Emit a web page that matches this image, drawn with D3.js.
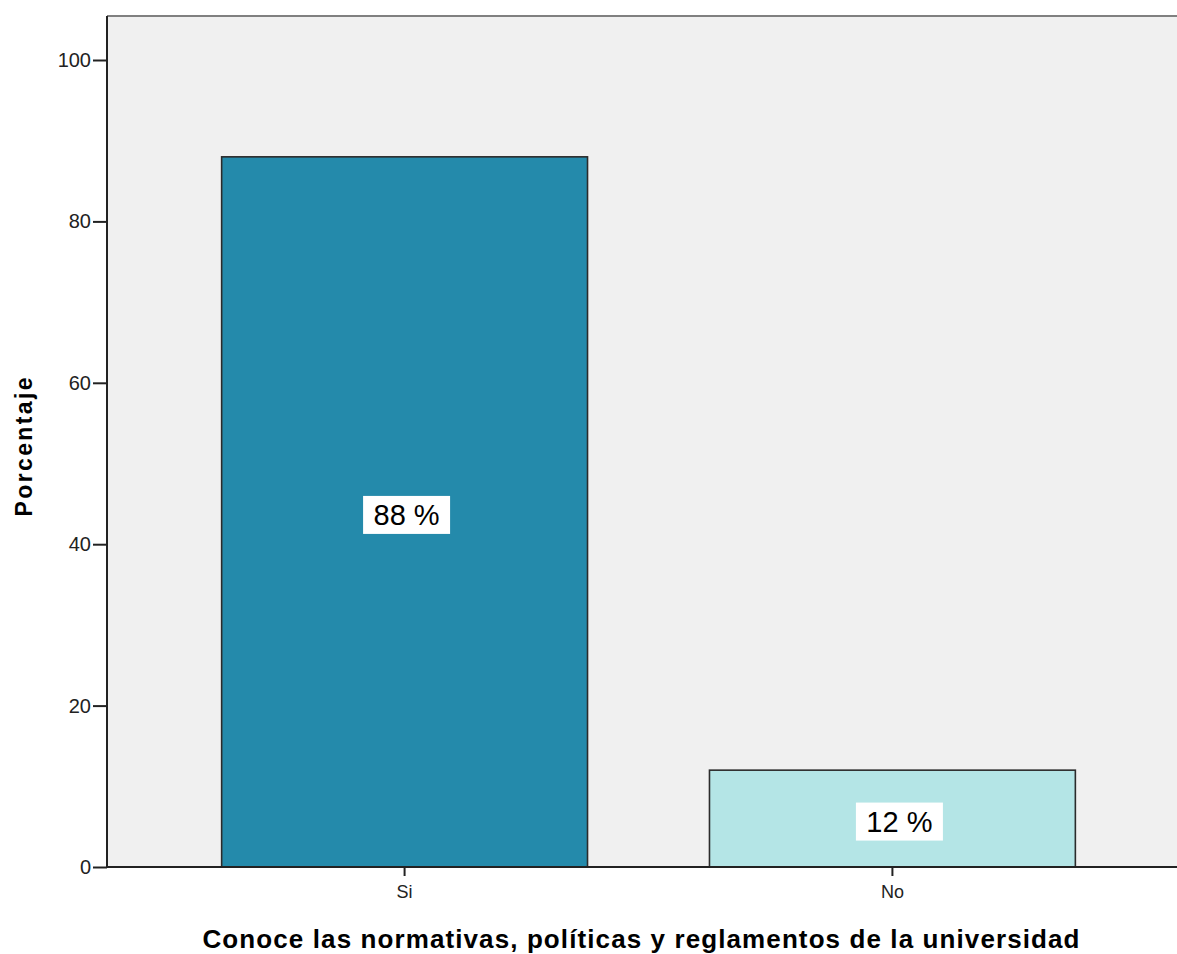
<!DOCTYPE html>
<html>
<head>
<meta charset="utf-8">
<script src="https://cdn.jsdelivr.net/npm/d3@7"></script>
<style>
  body { margin: 0; background: #fff; }
  text { font-family: "Liberation Sans", Arial, sans-serif; }
</style>
</head>
<body>
<svg id="chart" width="1177" height="954"></svg>
<script>
// data
var categories = ["Si", "No"]
var percents = [88, 12]
var labels = ["88 %", "12 %"]
var barColors = ["#248aab", "#b4e5e6"]
var yTicks = [0, 20, 40, 60, 80, 100]

var width = 1177, height = 954
var margin = { top: 16, bottom: 87, left: 107 }
var svg = d3.select("#chart")

// the plot area runs past the right edge of the picture
var x = d3.scaleBand()
    .domain(categories)
    .range([margin.left, 1190])
    .paddingInner(0.25)
    .paddingOuter(0.235)

var y = d3.scaleLinear()
    .domain([0, 100])
    .range([height - margin.bottom, 60])

// plot background
svg.append("rect")
    .attr("x", margin.left)
    .attr("y", margin.top)
    .attr("width", width - margin.left + 10)
    .attr("height", height - margin.bottom - margin.top)
    .attr("fill", "#f0f0f0")

svg.append("line")
    .attr("x1", margin.left).attr("x2", width + 5)
    .attr("y1", margin.top).attr("y2", margin.top)
    .attr("stroke", "#808080").attr("stroke-width", 2)

// bars
svg.selectAll(".bar")
    .data(categories)
    .join("rect")
    .attr("class", "bar")
    .attr("x", d => x(d))
    .attr("y", (d, i) => y(percents[i]))
    .attr("width", x.bandwidth())
    .attr("height", (d, i) => y(0) - y(percents[i]))
    .attr("fill", (d, i) => barColors[i])
    .attr("stroke", "#2b2b2b")
    .attr("stroke-width", 1.6)

// value labels with white boxes
var lab = svg.selectAll(".lab")
    .data(categories)
    .join("g")
    .attr("class", "lab")
    .attr("transform", (d, i) => `translate(${x(d) + x.bandwidth() / 2 + (i == 0 ? 2 : 7)},${y(percents[i] / 2) + 3})`)

lab.append("rect")
    .attr("x", -43.5)
    .attr("y", -19)
    .attr("width", 87)
    .attr("height", 38)
    .attr("fill", "#fff")

lab.append("text")
    .attr("text-anchor", "middle")
    .attr("dy", "0.36em")
    .style("font-size", "29px")
    .attr("fill", "#000")
    .text((d, i) => labels[i])

// y axis
var yAxis = svg.append("g")
    .attr("transform", `translate(${margin.left},0)`)
    .call(d3.axisLeft(y).tickValues(yTicks).tickSize(14).tickPadding(2))
yAxis.select(".domain").remove()
yAxis.selectAll(".tick line").attr("stroke", "#222").attr("stroke-width", 2)
yAxis.selectAll(".tick text").style("font-size", "20px").attr("fill", "#222")
svg.append("line")
    .attr("x1", margin.left).attr("x2", margin.left)
    .attr("y1", margin.top).attr("y2", y(0))
    .attr("stroke", "#222").attr("stroke-width", 2)

// x axis
var xAxis = svg.append("g")
    .attr("transform", `translate(0,${y(0)})`)
    .call(d3.axisBottom(x).tickSize(9).tickPadding(9))
xAxis.select(".domain").remove()
xAxis.selectAll(".tick line").attr("stroke", "#222").attr("stroke-width", 2)
xAxis.selectAll(".tick text").style("font-size", "18px").attr("fill", "#222")
svg.append("line")
    .attr("x1", margin.left - 1).attr("x2", width + 5)
    .attr("y1", y(0)).attr("y2", y(0))
    .attr("stroke", "#222").attr("stroke-width", 2)

// axis titles
svg.append("text")
    .attr("x", 641)
    .attr("y", 948)
    .attr("text-anchor", "middle")
    .attr("textLength", 877)
    .style("font-size", "26px")
    .style("font-weight", "bold")
    .text("Conoce las normativas, políticas y reglamentos de la universidad")

svg.append("text")
    .attr("transform", "translate(32,447) rotate(-90)")
    .attr("text-anchor", "middle")
    .attr("textLength", 139)
    .style("font-size", "23px")
    .style("font-weight", "bold")
    .text("Porcentaje")
</script>
</body>
</html>
